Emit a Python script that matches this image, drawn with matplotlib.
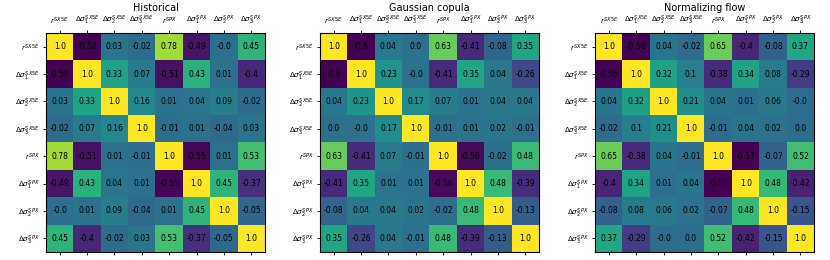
import numpy as np
import matplotlib
matplotlib.use("Agg")
import matplotlib.pyplot as plt

labels = [r"$r^{SX5E}$", r"$\Delta\sigma_1^{SX5E}$", r"$\Delta\sigma_2^{SX5E}$", r"$\Delta\sigma_3^{SX5E}$",
          r"$r^{SPX}$", r"$\Delta\sigma_1^{SPX}$", r"$\Delta\sigma_2^{SPX}$", r"$\Delta\sigma_3^{SPX}$"]

titles = ["Historical", "Gaussian copula", "Normalizing flow"]

historical = [
    [1.0, -0.58, 0.03, -0.02, 0.78, -0.49, -0.0, 0.45],
    [-0.58, 1.0, 0.33, 0.07, -0.51, 0.43, 0.01, -0.4],
    [0.03, 0.33, 1.0, 0.16, 0.01, 0.04, 0.09, -0.02],
    [-0.02, 0.07, 0.16, 1.0, -0.01, 0.01, -0.04, 0.03],
    [0.78, -0.51, 0.01, -0.01, 1.0, -0.55, 0.01, 0.53],
    [-0.49, 0.43, 0.04, 0.01, -0.55, 1.0, 0.45, -0.37],
    [-0.0, 0.01, 0.09, -0.04, 0.01, 0.45, 1.0, -0.05],
    [0.45, -0.4, -0.02, 0.03, 0.53, -0.37, -0.05, 1.0],
]

gaussian_copula = [
    [1.0, -0.6, 0.04, 0.0, 0.63, -0.41, -0.08, 0.35],
    [-0.6, 1.0, 0.23, -0.0, -0.41, 0.35, 0.04, -0.26],
    [0.04, 0.23, 1.0, 0.17, 0.07, 0.01, 0.04, 0.04],
    [0.0, -0.0, 0.17, 1.0, -0.01, 0.01, 0.02, -0.01],
    [0.63, -0.41, 0.07, -0.01, 1.0, -0.56, -0.02, 0.48],
    [-0.41, 0.35, 0.01, 0.01, -0.56, 1.0, 0.48, -0.39],
    [-0.08, 0.04, 0.04, 0.02, -0.02, 0.48, 1.0, -0.13],
    [0.35, -0.26, 0.04, -0.01, 0.48, -0.39, -0.13, 1.0],
]

normalizing_flow = [
    [1.0, -0.56, 0.04, -0.02, 0.65, -0.4, -0.08, 0.37],
    [-0.56, 1.0, 0.32, 0.1, -0.38, 0.34, 0.08, -0.29],
    [0.04, 0.32, 1.0, 0.21, 0.04, 0.01, 0.06, -0.0],
    [-0.02, 0.1, 0.21, 1.0, -0.01, 0.04, 0.02, 0.0],
    [0.65, -0.38, 0.04, -0.01, 1.0, -0.57, -0.07, 0.52],
    [-0.4, 0.34, 0.01, 0.04, -0.57, 1.0, 0.48, -0.42],
    [-0.08, 0.08, 0.06, 0.02, -0.07, 0.48, 1.0, -0.15],
    [0.37, -0.29, -0.0, 0.0, 0.52, -0.42, -0.15, 1.0],
]

fig = plt.figure(figsize=(8.3, 2.6), dpi=100)
lefts = [0.0554, 0.3855, 0.717]

for left, title, mat in zip(lefts, titles, [historical, gaussian_copula, normalizing_flow]):
    ax = fig.add_axes([left, 0.031, 0.264, 0.842])
    m = np.array(mat)
    ax.matshow(m, cmap="viridis")
    # annotate each cell
    for i in range(m.shape[0]):
        for j in range(m.shape[1]):
            ax.text(j, i, str(m[i, j]), ha="center", va="center", fontsize=5.5)
    ax.set_xticks(range(len(labels)))
    ax.set_yticks(range(len(labels)))
    ax.set_xticklabels(labels, fontsize=5.2)
    ax.set_yticklabels(labels, fontsize=5.2)
    ax.tick_params(length=2.5, width=0.6, pad=2)
    for s in ax.spines.values():
        s.set_linewidth(0.8)
    ax.set_title(title, fontsize=7, pad=2)

fig.savefig("out.png", dpi=100)
